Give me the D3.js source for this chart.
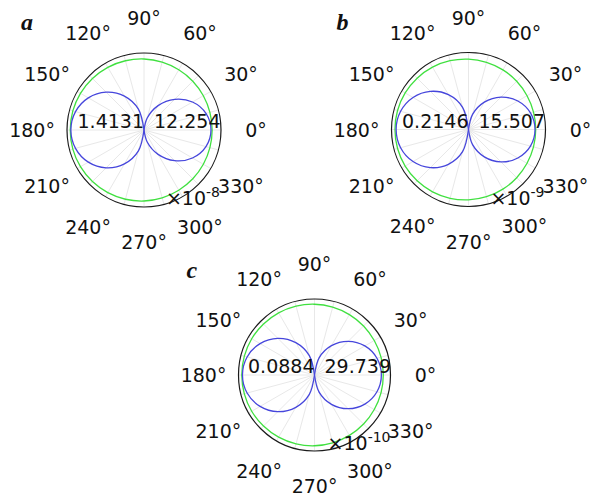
<!DOCTYPE html>
<html>
<head>
<meta charset="utf-8">
<script src="https://cdn.jsdelivr.net/npm/d3@7"></script>
<style>
  body { margin: 0; background: #fff; }
  .sans { font-family: "DejaVu Sans", sans-serif; }
  .letter { font-family: "Liberation Serif", "DejaVu Serif", serif; font-style: italic; font-weight: bold; }
</style>
</head>
<body>
<div id="chart"></div>
<script>
// sample angles (degrees) and angle tick labels
const angles = [0, 15, 30, 45, 60, 75, 90, 105, 120, 135, 150, 165,
  180, 195, 210, 225, 240, 255, 270, 285, 300, 315, 330, 345];
const tickAngles = [0, 30, 60, 90, 120, 150, 180, 210, 240, 270, 300, 330];

const panelNames = ["a", "b", "c"];
const leftPeaks = ["1.4131", "0.2146", "0.0884"];
const rightPeaks = ["12.254", "15.507", "29.739"];
const exponents = ["-8", "-9", "-10"];

// normalised radius (outer circle = 1)
const blueA = [0.870, 0.833, 0.727, 0.564, 0.366, 0.161, 0, 0.281, 0.509, 0.695, 0.835, 0.921,
  0.950, 0.921, 0.835, 0.695, 0.509, 0.281, 0, 0.161, 0.366, 0.564, 0.727, 0.833];
const blueB = [0.864, 0.833, 0.740, 0.596, 0.411, 0.204, 0, 0.298, 0.522, 0.700, 0.832, 0.913,
  0.940, 0.913, 0.832, 0.700, 0.522, 0.298, 0, 0.204, 0.411, 0.596, 0.740, 0.833];
const blueC = [0.880, 0.851, 0.765, 0.627, 0.446, 0.234, 0, 0.263, 0.491, 0.683, 0.827, 0.918,
  0.948, 0.918, 0.827, 0.683, 0.491, 0.263, 0, 0.234, 0.446, 0.627, 0.765, 0.851];

const greenA = [0.885, 0.886, 0.890, 0.896, 0.903, 0.912, 0.922, 0.931, 0.940, 0.947, 0.953, 0.957,
  0.958, 0.957, 0.953, 0.947, 0.940, 0.931, 0.922, 0.912, 0.903, 0.896, 0.890, 0.886];
const greenB = [0.873, 0.874, 0.878, 0.885, 0.894, 0.903, 0.914, 0.925, 0.935, 0.943, 0.950, 0.954,
  0.955, 0.954, 0.950, 0.943, 0.935, 0.925, 0.914, 0.903, 0.894, 0.885, 0.878, 0.874];
const greenC = [0.905, 0.906, 0.908, 0.913, 0.918, 0.924, 0.931, 0.938, 0.944, 0.949, 0.954, 0.956,
  0.957, 0.956, 0.954, 0.949, 0.944, 0.938, 0.931, 0.924, 0.918, 0.913, 0.908, 0.906];

const blues = [blueA, blueB, blueC];
const greens = [greenA, greenB, greenC];

// layout of the three polar panels
const layout = [
  { cx: 144, cy: 130, R: 77, lx: -123, ly: -100 },
  { cx: 468.5, cy: 129.5, R: 77, lx: -132, ly: -100 },
  { cx: 314.5, cy: 375, R: 76, lx: -128, ly: -97 }
];

const svg = d3.select("#chart")
  .append("svg")
  .attr("width", 591)
  .attr("height", 495);

svg.append("rect").attr("width", 591).attr("height", 495).attr("fill", "#fff");

const toRad = d => (90 - d) * Math.PI / 180; // d3 radial angle from math angle

layout.forEach((p, i) => {
  const r = d3.scaleLinear().domain([0, 1]).range([0, p.R]);
  const g = svg.append("g").attr("transform", `translate(${p.cx},${p.cy})`);

  // spokes
  g.selectAll(".spoke")
    .data(angles)
    .join("line")
    .attr("x1", 0).attr("y1", 0)
    .attr("x2", d => r(1) * Math.cos(d * Math.PI / 180))
    .attr("y2", d => -r(1) * Math.sin(d * Math.PI / 180))
    .attr("stroke", "#e8e8e8")
    .attr("stroke-width", 1);

  // outer circle
  g.append("circle")
    .attr("r", r(1))
    .attr("fill", "none")
    .attr("stroke", "#1a1a1a")
    .attr("stroke-width", 1.2);

  const pts = blues[i].map((v, k) => ({ a: angles[k], v }));
  const gpts = greens[i].map((v, k) => ({ a: angles[k], v }));

  // green curve
  g.append("path")
    .attr("d", d3.lineRadial()
      .angle(d => toRad(d.a))
      .radius(d => r(d.v))
      .curve(d3.curveCatmullRomClosed)(gpts))
    .attr("fill", "none")
    .attr("stroke", "#40e040")
    .attr("stroke-width", 1.3);

  // blue lobes
  const rightLobe = pts.slice(18).concat(pts.slice(0, 7));
  const leftLobe = pts.slice(6, 19);
  const lobe = d3.lineRadial()
    .angle(d => toRad(d.a))
    .radius(d => r(d.v))
    .curve(d3.curveCatmullRom);
  [rightLobe, leftLobe].forEach(l => {
    g.append("path")
      .attr("d", lobe(l))
      .attr("fill", "none")
      .attr("stroke", "#4646dc")
      .attr("stroke-width", 1.3);
  });

  // angle labels
  g.selectAll(".tick")
    .data(tickAngles)
    .join("text")
    .attr("class", "sans")
    .attr("x", d => (r(1) + 35) * Math.cos(d * Math.PI / 180))
    .attr("y", d => -(r(1) + 35) * Math.sin(d * Math.PI / 180))
    .attr("text-anchor", "middle")
    .attr("dominant-baseline", "central")
    .attr("font-size", 19)
    .attr("fill", "#111")
    .text(d => d + "°");

  // peak values
  g.append("text")
    .attr("class", "sans")
    .attr("x", 0).attr("y", -2)
    .attr("text-anchor", "end")
    .attr("font-size", 19)
    .attr("fill", "#111")
    .text(leftPeaks[i]);
  g.append("text")
    .attr("class", "sans")
    .attr("x", 10).attr("y", -2)
    .attr("font-size", 19)
    .attr("fill", "#111")
    .text(rightPeaks[i]);

  // exponent
  const ex = g.append("text")
    .attr("class", "sans")
    .attr("x", 76).attr("y", 75)
    .attr("text-anchor", "end")
    .attr("font-size", 19)
    .attr("fill", "#111");
  ex.append("tspan").text("×10");
  ex.append("tspan").attr("font-size", 14).attr("dy", -8).text(exponents[i]);

  // panel letter
  svg.append("text")
    .attr("class", "letter")
    .attr("x", p.cx + p.lx).attr("y", p.cy + p.ly)
    .attr("font-size", 24)
    .attr("fill", "#111")
    .text(panelNames[i]);
});
</script>
</body>
</html>
